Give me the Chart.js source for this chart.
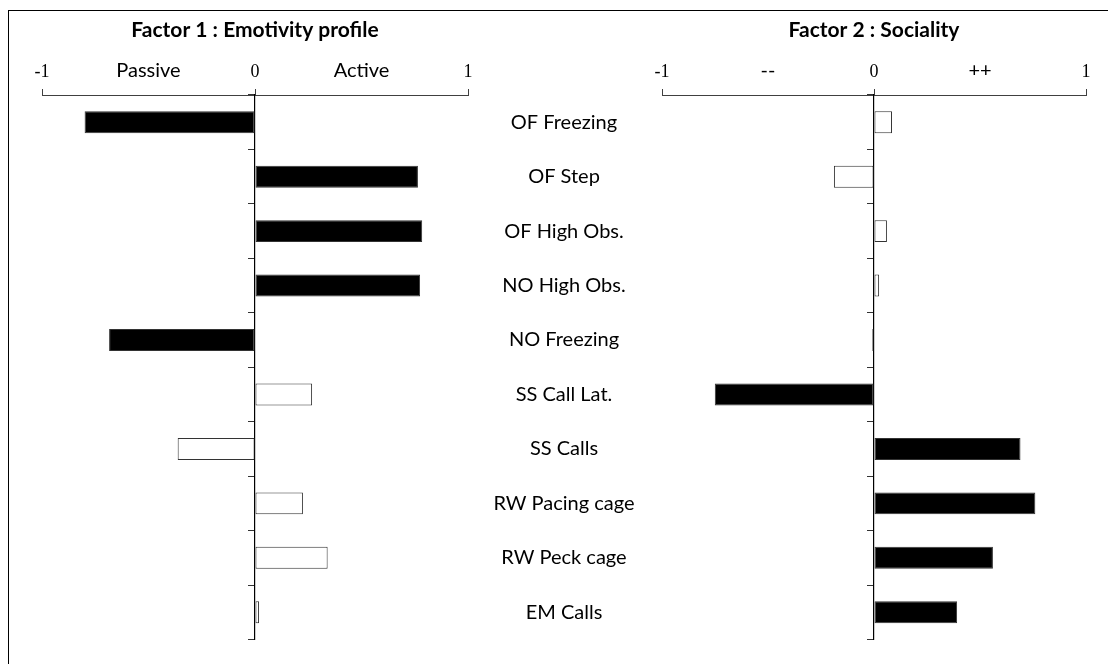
<!DOCTYPE html>
<html>
<head>
<meta charset="utf-8">
<script src="https://cdn.jsdelivr.net/npm/chart.js@4.4.1/dist/chart.umd.min.js"></script>
<style>
  body { margin: 0; background: #fff; width: 1108px; height: 664px; overflow: hidden; position: relative; }
  #frame { position: absolute; left: 8px; top: 10px; right: 0; bottom: 0; border-top: 1px solid #000; border-left: 1px solid #000; }
  #boxLeft { position: absolute; left: 0; top: 0; width: 480px; height: 664px; }
  #boxRight { position: absolute; left: 480px; top: 0; width: 628px; height: 664px; }
</style>
</head>
<body>
<div id="frame"></div>
<div id="boxLeft"><canvas id="factor1"></canvas></div>
<div id="boxRight"><canvas id="factor2"></canvas></div>
<script>
// variables, top to bottom
const categories = ["OF Freezing", "OF Step", "OF High Obs.", "NO High Obs.", "NO Freezing",
  "SS Call Lat.", "SS Calls", "RW Pacing cage", "RW Peck cage", "EM Calls"];
// loadings on each factor
const factor1 = [-0.80, 0.765, 0.785, 0.775, -0.685, 0.268, -0.363, 0.225, 0.341, 0.019];
const factor2 = [0.085, -0.189, 0.061, 0.024, -0.008, -0.751, 0.691, 0.761, 0.561, 0.392];
// which factor the variable belongs to (black bar)
const loadsOn = [1, 1, 1, 1, 1, 2, 2, 2, 2, 2];
const axisTicks = [-1, 0, 1];
const poles1 = ["Passive", "Active"];
const poles2 = ["--", "++"];

const labelFont = { family: "Lato", size: 20 };
const numFont = { family: "Liberation Serif", size: 18 };

const tickVal = (ctx) => (ctx.tick ? ctx.tick.value : null);

function makeChart(id, values, factorNo, title, poles, withLabels) {
  const fills = loadsOn.map((f) => (f === factorNo ? "#000" : "#fff"));

  const scales = {
    x: {
      position: "top",
      min: -1,
      max: 1,
      border: { display: true, color: "#404040", width: 1 },
      grid: {
        drawOnChartArea: false,
        tickLength: 6,
        tickColor: (ctx) => (axisTicks.includes(tickVal(ctx)) ? "#404040" : "rgba(0,0,0,0)"),
      },
      ticks: {
        stepSize: 0.5,
        padding: 6,
        color: "#000",
        maxRotation: 0,
        autoSkip: false,
        font: (ctx) => (Math.abs(tickVal(ctx)) === 0.5 ? labelFont : numFont),
        callback: (v) => {
          if (v === -0.5) return poles[0];
          if (v === 0.5) return poles[1];
          return axisTicks.includes(v) ? String(v) : "";
        },
      },
      afterFit: (s) => { s.height = 43.8; },
    },
    y: {
      position: { x: 0 },
      offset: true,
      border: { display: true, color: "#000", width: 1.2 },
      grid: { drawOnChartArea: false, offset: true, tickLength: 6, tickColor: "#333" },
      ticks: { display: false },
    },
  };

  let padLeft = 42;
  if (withLabels) {
    // variable names sit between the two panels, centred near x = 564
    const c = document.createElement("canvas").getContext("2d");
    c.font = "20px Lato";
    const widest = Math.max(...categories.map((t) => c.measureText(t).width));
    const gap = 90 - widest / 2;
    scales.yl = {
      type: "category",
      labels: categories,
      position: "left",
      weight: 1,
      offset: true,
      border: { display: false },
      grid: { display: false },
      ticks: { font: labelFont, color: "#000", crossAlign: "center", padding: 0 },
      afterFit: (s) => { s.width = 182 - gap; },
    };
    scales.ys = {
      type: "category",
      labels: categories,
      position: "left",
      weight: 0,
      offset: true,
      border: { display: false },
      grid: { display: false },
      ticks: { display: false },
      afterFit: (s) => { s.width = gap; },
    };
    padLeft = 0;
  }

  return new Chart(document.getElementById(id), {
    type: "bar",
    data: {
      labels: categories,
      datasets: [{
        data: values,
        backgroundColor: fills,
        borderColor: "#333",
        borderWidth: 1,
        borderSkipped: false,
        barPercentage: 0.404,
        categoryPercentage: 1,
      }],
    },
    options: {
      indexAxis: "y",
      responsive: true,
      maintainAspectRatio: false,
      animation: false,
      layout: { padding: { left: padLeft, right: withLabels ? 22 : 12, top: 0, bottom: 24.5 } },
      plugins: {
        legend: { display: false },
        tooltip: { enabled: false },
        title: {
          display: true,
          fullSize: false,
          text: title,
          color: "#000",
          font: { family: "Lato", size: 21, weight: "bold", lineHeight: 1.2 },
          padding: { top: 18, bottom: 8 },
        },
      },
      scales: scales,
    },
  });
}

makeChart("factor1", factor1, 1, "Factor 1 : Emotivity profile", poles1, false);
makeChart("factor2", factor2, 2, "Factor 2 : Sociality", poles2, true);
</script>
</body>
</html>
